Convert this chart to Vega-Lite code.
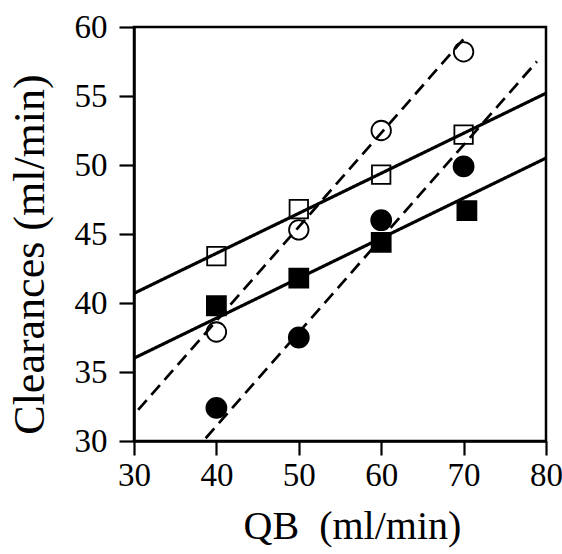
{
  "$schema": "https://vega.github.io/schema/vega-lite/v6.json",
  "autosize": "none",
  "width": 412,
  "height": 414,
  "padding": {"left": 134, "top": 27, "right": 16, "bottom": 113},
  "background": "white",
  "config": {
    "view": {"stroke": "black", "strokeWidth": 2.5},
    "font": "Liberation Serif",
    "axis": {
      "grid": false,
      "labelFlush": false,
      "domainColor": "black",
      "domainWidth": 2.5,
      "tickColor": "black",
      "tickWidth": 2.2,
      "labelFont": "Liberation Serif",
      "labelFontSize": 33,
      "labelColor": "black",
      "titleFont": "Liberation Serif",
      "titleFontWeight": "normal",
      "titleColor": "black"
    }
  },
  "datasets": {
    "points": [
      {"series": "A", "qb": 40, "cl": 43.4},
      {"series": "A", "qb": 50, "cl": 46.8},
      {"series": "A", "qb": 60, "cl": 49.3},
      {"series": "A", "qb": 70, "cl": 52.2},
      {"series": "B", "qb": 40, "cl": 39.8},
      {"series": "B", "qb": 50, "cl": 41.8},
      {"series": "B", "qb": 60, "cl": 44.4},
      {"series": "B", "qb": 70.4, "cl": 46.7},
      {"series": "C", "qb": 40, "cl": 37.9},
      {"series": "C", "qb": 50, "cl": 45.3},
      {"series": "C", "qb": 60, "cl": 52.5},
      {"series": "C", "qb": 70, "cl": 58.2},
      {"series": "D", "qb": 40, "cl": 32.4},
      {"series": "D", "qb": 50, "cl": 37.5},
      {"series": "D", "qb": 60, "cl": 46.0},
      {"series": "D", "qb": 70, "cl": 49.9}
    ],
    "lines": [
      {"series": "A", "style": "solid", "qb": 30, "cl": 40.7},
      {"series": "A", "style": "solid", "qb": 80, "cl": 55.2},
      {"series": "B", "style": "solid", "qb": 30, "cl": 36.0},
      {"series": "B", "style": "solid", "qb": 80, "cl": 50.5},
      {"series": "C", "style": "dashed", "qb": 30.5, "cl": 32.25},
      {"series": "C", "style": "dashed", "qb": 70.4, "cl": 59.4},
      {"series": "D", "style": "dashed", "qb": 38.7, "cl": 30.2},
      {"series": "D", "style": "dashed", "qb": 78.9, "cl": 57.5}
    ]
  },
  "layer": [
    {
      "data": {"name": "points"},
      "mark": {"type": "point", "filled": false, "stroke": "black", "strokeWidth": 1.8, "opacity": 1},
      "encoding": {
        "x": {"field": "qb", "type": "quantitative", "scale": {"domain": [30, 80], "nice": false, "zero": false},
              "axis": {"values": [30, 40, 50, 60, 70, 80], "title": "QB \u00a0(ml/min)", "tickSize": 14, "labelPadding": 4, "titlePadding": 14, "titleX": 218, "titleFontSize": 40}},
        "y": {"field": "cl", "type": "quantitative", "scale": {"domain": [30, 60], "nice": false, "zero": false},
              "axis": {"values": [30, 35, 40, 45, 50, 55, 60], "title": "Clearances (ml/min)", "tickSize": 15, "labelPadding": 12, "titlePadding": 22, "titleY": 227, "titleFontSize": 44}},
        "shape": {"field": "series", "type": "nominal", "legend": null,
                  "scale": {"domain": ["A", "B", "C", "D"], "range": ["square", "square", "circle", "circle"]}},
        "fill": {"field": "series", "type": "nominal", "legend": null,
                 "scale": {"domain": ["A", "B", "C", "D"], "range": ["transparent", "black", "transparent", "black"]}},
        "size": {"field": "series", "type": "nominal", "legend": null,
                 "scale": {"domain": ["A", "B", "C", "D"], "range": [340, 400, 400, 484]}}
      }
    },
    {
      "data": {"name": "lines"},
      "mark": {"type": "line", "color": "black"},
      "encoding": {
        "x": {"field": "qb", "type": "quantitative"},
        "y": {"field": "cl", "type": "quantitative"},
        "detail": {"field": "series", "type": "nominal"},
        "strokeDash": {"field": "style", "type": "nominal", "legend": null,
                       "scale": {"domain": ["solid", "dashed"], "range": [[1, 0], [13, 7]]}},
        "strokeWidth": {"field": "style", "type": "nominal", "legend": null,
                        "scale": {"domain": ["solid", "dashed"], "range": [3.2, 2.7]}}
      }
    }
  ]
}
